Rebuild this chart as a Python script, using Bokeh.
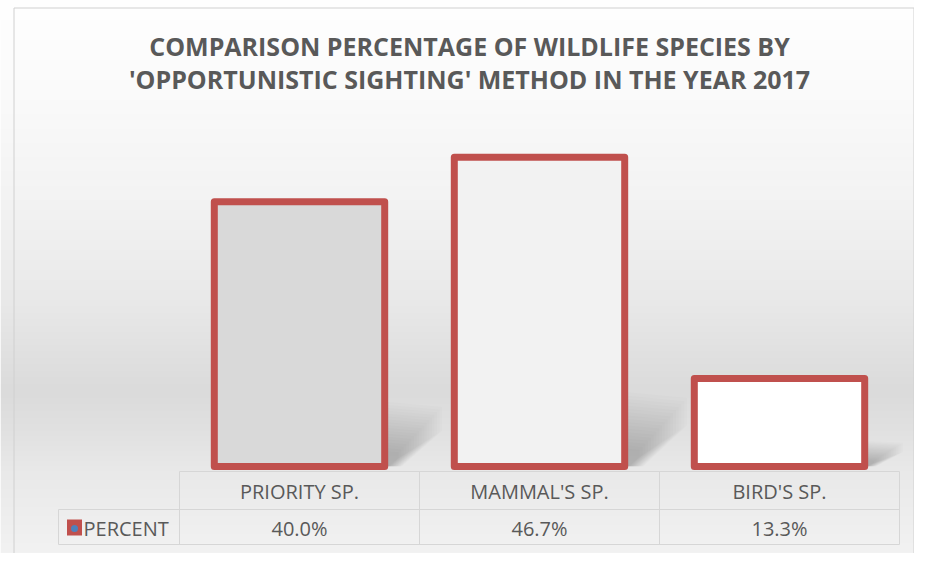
import numpy as np
from bokeh.plotting import figure
from bokeh.models import Range1d, ColumnDataSource
from bokeh.core.properties import value
from bokeh.embed import file_html
from bokeh.resources import INLINE

# ---------------- data ----------------
categories = ["PRIORITY SP.", "MAMMAL'S SP.", "BIRD'S SP."]
percent = [40.0, 46.7, 13.3]
value_labels = ["40.0%", "46.7%", "13.3%"]
series_name = "PERCENT"
bar_fills = ["#d9d9d9", "#f2f2f2", "#ffffff"]
title_lines = ["COMPARISON PERCENTAGE OF WILDLIFE SPECIES BY",
               "'OPPORTUNISTIC SIGHTING' METHOD IN THE YEAR 2017"]

# ---------------- layout constants (pixels) ----------------
W, H = 914, 553
PX_CAT = 240.0        # pixels per category column
PX_PCT = 6.62         # pixels per percent
XC = 299.0            # x of first category centre
YB = 466.0            # y of value 0

def X(px):
    return (px - XC) / PX_CAT

def Y(py):
    return (YB - py) / PX_PCT

x_start, x_end = X(0), X(W)
y_start, y_end = Y(H), Y(0)

RED = "#C0504D"
GRID = "#d6d6d6"
TXT = "#595959"
FONT = value("Open Sans")

p = figure(width=W, height=H, x_range=Range1d(x_start, x_end),
           y_range=Range1d(y_start, y_end), output_backend="svg",
           toolbar_location=None, x_axis_type=None, y_axis_type=None,
           min_border=0)
p.grid.visible = False
p.outline_line_color = None
p.background_fill_color = "#ffffff"
p.border_fill_color = "#ffffff"

# ---------------- background gradient ----------------
ny = H
py = (ny - 1 - np.arange(ny)) + 0.5
g = np.interp(py, [0, 100, 200, 300, 390, 430, 470, 569],
              [255, 250, 243, 233, 219, 225, 233, 244]).astype(np.uint8)
img = np.zeros((ny, 1), dtype=np.uint32)
view = img.view(dtype=np.uint8).reshape((ny, 1, 4))
view[:, 0, 0] = g
view[:, 0, 1] = g
view[:, 0, 2] = g
view[:, 0, 3] = 255
p.image_rgba(image=[img], x=x_start, y=y_start, dw=x_end - x_start, dh=y_end - y_start)

# chart border
p.quad(left=X(13.5), right=X(913.5), top=Y(7.5), bottom=Y(600),
       fill_color=None, line_color="#d0d0d0", line_width=1)

# ---------------- bars ----------------
xs = list(range(len(categories)))
BAR_W = 0.71
src = ColumnDataSource(dict(x=xs, top=percent, fill=bar_fills))

# soft perspective shadows derived from the bar geometry
NL = 18
for k in range(NL):
    f = 1.0 - k / NL * 0.8
    sx, sy = [], []
    for i, v in zip(xs, percent):
        r = i + BAR_W / 2
        s = (0.22 * v + 1.0) * f
        d = (0.12 + 0.003 * v) * f
        sx.append([r, r, r + d, r + d, r + d * 0.3])
        sy.append([0, s, s * 0.92, s * 0.55, 0])
    p.patches(sx, sy, fill_color="#000000", fill_alpha=0.011, line_color=None)

p.vbar(x="x", top="top", bottom=0, width=BAR_W, source=src,
       fill_color="fill", line_color=RED, line_width=7, line_join="round")

# ---------------- data table ----------------
n = len(categories)
edges = [i - 0.5 for i in range(n + 1)]
y_top, y_mid, y_bot = Y(471), Y(509), Y(544)
x_left = X(58)
seg_x = [[edges[0], edges[-1]], [x_left, edges[-1]], [x_left, edges[-1]], [x_left, x_left]]
seg_y = [[y_top, y_top], [y_mid, y_mid], [y_bot, y_bot], [y_mid, y_bot]]
for e in edges:
    seg_x.append([e, e])
    seg_y.append([y_top, y_bot])
p.multi_line(seg_x, seg_y, line_color=GRID, line_width=1)

p.text(x=xs, y=[Y(491)] * n, text=categories, text_align="center",
       text_baseline="middle", text_font=FONT, text_font_size="20px",
       text_color=TXT)
p.text(x=xs, y=[Y(528)] * n, text=value_labels, text_align="center",
       text_baseline="middle", text_font=FONT, text_font_size="20px",
       text_color=TXT)

# legend key + series name
p.rect(x=[X(74)], y=[Y(527)], width=15, height=16, width_units="screen",
       height_units="screen", fill_color=RED, line_color=None)
p.scatter(x=[X(74)], y=[Y(528)], size=7, fill_color="#4F81BD", line_color=None)
p.text(x=[X(83)], y=[Y(528)], text=[series_name], text_align="left",
       text_baseline="middle", text_font=FONT, text_font_size="20px",
       text_color=TXT)

# ---------------- title ----------------
p.text(x=[X(469), X(469)], y=[Y(45), Y(78)], text=title_lines,
       text_align="center", text_baseline="middle", text_font=FONT,
       text_font_size="25px", text_font_style="bold", text_color=TXT)

open("out.html", "w").write(file_html(p, INLINE))
